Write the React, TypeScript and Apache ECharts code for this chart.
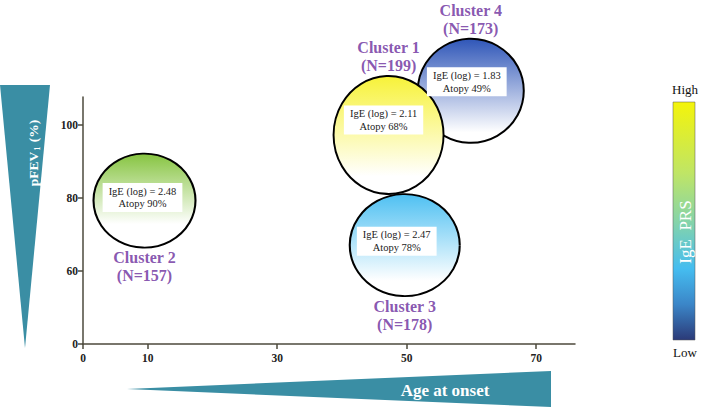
import React, { useEffect, useRef } from "react";
import * as echarts from "echarts";

// ---- data ----
const clusters = ["Cluster 1", "Cluster 2", "Cluster 3", "Cluster 4"];
const clusterN = [199, 157, 178, 173];
const ageAtOnset = [47.2, 9.5, 49.7, 59.9];
const pFEV1 = [97.3, 79.3, 67.1, 109.4];
const igeLog = ["2.11", "2.48", "2.47", "1.83"];
const atopyPct = [68, 90, 78, 49];
const xTicks = [0, 10, 30, 50, 70];
const yTicks = [40, 60, 80, 100];
const yTickLabels = ["0", "60", "80", "100"];

// ---- styling (not data) ----
const bubbleSizes = [[110, 118], [102, 94], [110, 102], [106, 104]];
const topColors = ["#f7f238", "#86c440", "#4ec0f2", "#2f56b8"];
const whiteStop = [0.85, 0.75, 0.85, 0.9];
const labelOffsets = [[-5, -15], [-2, -3], [-8, -4], [-4, -9]];
const namePos = ["top", "bottom", "bottom", "top"];
const drawOrder = [3, 2, 1, 0];

const SERIF = "'Liberation Serif', 'DejaVu Serif', serif";
const TEAL = "#3a8ea4";
const PURPLE = "#6a2c9c";

export default function App() {
  const ref = useRef<HTMLDivElement>(null);
  useEffect(() => {
    if (!ref.current) return;
    const chart = echarts.init(ref.current, undefined, { renderer: "svg" });

    const bubbleData = drawOrder.map((i) => ({
      value: [ageAtOnset[i], pFEV1[i]],
      name: clusters[i],
      symbolSize: bubbleSizes[i],
      itemStyle: {
        color: new echarts.graphic.LinearGradient(0, 0, 0, 1, [
          { offset: 0, color: topColors[i] },
          { offset: whiteStop[i], color: "#ffffff" },
          { offset: 1, color: "#ffffff" },
        ]),
      },
      label: {
        offset: labelOffsets[i],
        formatter: `IgE (log) = ${igeLog[i]}\nAtopy ${atopyPct[i]}%`,
      },
    }));

    const nameData = drawOrder.map((i) => ({
      value: [ageAtOnset[i], pFEV1[i]],
      symbolSize: bubbleSizes[i],
      label: {
        position: namePos[i],
        formatter: `${clusters[i]}\n(N=${clusterN[i]})`,
      },
    }));

    const option: any = {
      animation: false,
      backgroundColor: "#ffffff",
      grid: { left: 83, right: 133, top: 97, bottom: 66, containLabel: false },
      xAxis: {
        type: "value",
        min: 0,
        max: 76,
        splitLine: { show: false },
        axisLine: { lineStyle: { color: "#4d4a3c", width: 1.5 } },
        axisTick: { show: true, length: 5, customValues: xTicks, lineStyle: { color: "#4d4a3c", width: 1.5 } },
        axisLabel: {
          customValues: xTicks,
          color: "#222",
          fontFamily: SERIF,
          fontWeight: "bold",
          fontSize: 11.5,
          margin: 8,
        },
      },
      yAxis: {
        type: "value",
        min: 40,
        max: 107.7,
        splitLine: { show: false },
        axisLine: { show: true, lineStyle: { color: "#4d4a3c", width: 1.5 } },
        axisTick: { show: true, length: 5, customValues: yTicks, lineStyle: { color: "#4d4a3c", width: 1.5 } },
        axisLabel: {
          customValues: yTicks,
          formatter: (v: number) => yTickLabels[yTicks.indexOf(v)] ?? "",
          color: "#222",
          fontFamily: SERIF,
          fontWeight: "bold",
          fontSize: 11.5,
          margin: 5,
        },
      },
      series: [
        {
          type: "scatter",
          clip: false,
          data: bubbleData,
          itemStyle: { borderColor: "#000", borderWidth: 2, opacity: 1 },
          emphasis: { disabled: true },
          label: {
            show: true,
            position: "inside",
            color: "#222",
            fontFamily: SERIF,
            fontSize: 10.5,
            lineHeight: 12.5,
            backgroundColor: "#ffffff",
            padding: [2, 6],
          },
          z: 2,
        },
        {
          type: "scatter",
          clip: false,
          data: nameData,
          silent: true,
          itemStyle: { color: "rgba(0,0,0,0)" },
          emphasis: { disabled: true },
          label: {
            show: true,
            distance: 1,
            color: PURPLE,
            fontFamily: SERIF,
            fontWeight: "bold",
            fontSize: 16,
            lineHeight: 18,
            align: "center",
          },
          z: 3,
        },
      ],
      graphic: [
        {
          type: "polygon",
          shape: { points: [[0, 85], [50, 85], [25, 348]] },
          style: { fill: TEAL },
          z: 1,
        },
        {
          type: "text",
          x: 33,
          y: 153,
          rotation: Math.PI / 2,
          style: {
            text: "{a|pFEV}{b|1}{a| (%)}",
            align: "center",
            verticalAlign: "middle",
            rich: {
              a: { fill: "#fff", fontFamily: SERIF, fontWeight: "bold", fontSize: 13.5, lineHeight: 17 },
              b: { fill: "#fff", fontFamily: SERIF, fontWeight: "bold", fontSize: 8.5, lineHeight: 17, verticalAlign: "bottom", padding: [6, 1, 0, 1] },
            },
          },
          z: 2,
        },
        {
          type: "polygon",
          shape: { points: [[127, 389], [551, 371], [551, 407]] },
          style: { fill: TEAL },
          z: 1,
        },
        {
          type: "text",
          x: 445,
          y: 390,
          style: {
            text: "Age at onset",
            fill: "#fff",
            fontFamily: SERIF,
            fontWeight: "bold",
            fontSize: 17,
            align: "center",
            verticalAlign: "middle",
          },
          z: 2,
        },
        {
          type: "rect",
          shape: { x: 673, y: 102, width: 22, height: 238 },
          style: {
            fill: new echarts.graphic.LinearGradient(0, 0, 0, 1, [
              { offset: 0, color: "#f4f40a" },
              { offset: 0.3, color: "#bfe566" },
              { offset: 0.5, color: "#86d4a8" },
              { offset: 0.7, color: "#45bdf0" },
              { offset: 0.85, color: "#3b86c8" },
              { offset: 1, color: "#2b3a78" },
            ]),
            stroke: "#555",
            lineWidth: 0.5,
          },
          z: 1,
        },
        {
          type: "text",
          x: 685,
          y: 232,
          rotation: Math.PI / 2,
          style: {
            text: "IgE  PRS",
            fill: "#fff",
            fontFamily: SERIF,
            fontSize: 17,
            align: "center",
            verticalAlign: "middle",
          },
          z: 2,
        },
        {
          type: "text",
          x: 685,
          y: 89,
          style: { text: "High", fill: "#111", fontFamily: SERIF, fontSize: 13, align: "center", verticalAlign: "middle" },
        },
        {
          type: "text",
          x: 685,
          y: 352,
          style: { text: "Low", fill: "#111", fontFamily: SERIF, fontSize: 13, align: "center", verticalAlign: "middle" },
        },
      ],
    };

    chart.setOption(option);
    return () => chart.dispose();
  }, []);

  return <div ref={ref} style={{ width: 708, height: 410, position: "absolute", left: 0, top: 0 }} />;
}
